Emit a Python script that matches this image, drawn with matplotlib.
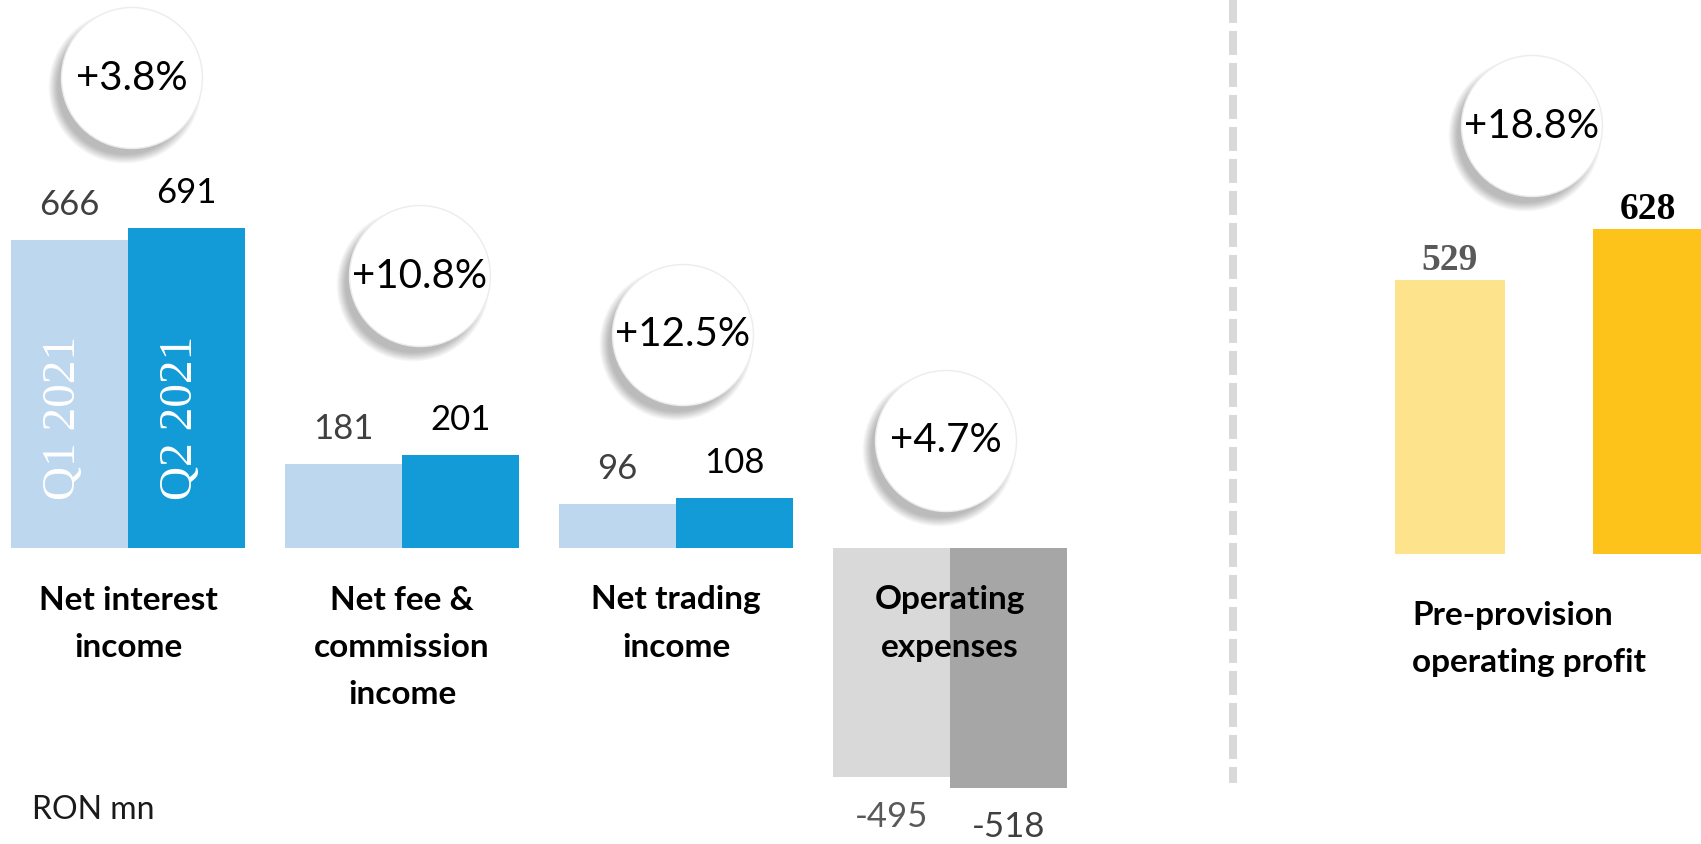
import matplotlib
matplotlib.use("Agg")
import matplotlib.pyplot as plt
import numpy as np
from matplotlib.patches import Circle

# data (RON mn)
periods = ["Q1 2021", "Q2 2021"]
categories = ["Net interest\nincome", "Net fee &\ncommission\nincome", "Net trading\nincome",
              "Operating\nexpenses"]
q1 = [666, 181, 96, -495]
q2 = [691, 201, 108, -518]
ppop_label = "Pre-provision\noperating profit"
ppop = [529, 628]
growth = ["+3.8%", "+10.8%", "+12.5%", "+4.7%"]
ppop_growth = "+18.8%"

W, H = 1701, 844
fig = plt.figure(figsize=(W / 100, H / 100), dpi=100)
plt.rcParams["font.family"] = ["Lato", "DejaVu Sans"]

blue_light, blue = "#bdd7ee", "#139bd7"
grey_light, grey = "#d9d9d9", "#a6a6a6"
yel_light, yel = "#fde38c", "#fdc31a"

# main axes covers the whole figure; scale chosen so that 1 group = 274 px,
# baseline at 548 px from the top and 0.463 px per RON mn
base, scale, step, first = 548, 0.463, 274, 128
ax = fig.add_axes([0, 0, 1, 1])
ax.set_xlim(-first / step, (W - first) / step)
ax.set_ylim((base - H) / scale, base / scale)
ax.axis("off")

x = np.arange(len(q1))
bw = 117 / step
c1 = [blue_light] * 3 + [grey_light]
c2 = [blue] * 3 + [grey]
b1 = ax.bar(x - bw / 2, q1, width=bw, color=c1, linewidth=0)
b2 = ax.bar(x + bw / 2, q2, width=bw, color=c2, linewidth=0)

for xs, vals, cols in [(x - bw / 2, q1, ["#404040"] * 3 + ["#595959"]),
                       (x + bw / 2, q2, ["#000000"] * 3 + ["#404040"])]:
    for xi, v, col in zip(xs, vals, cols):
        off = 25 if v > 0 else -28.5
        ax.annotate(str(v), xy=(xi, v), xytext=(0, off), textcoords="offset points",
                    ha="center", va="center", fontsize=25, color=col)

# period names written inside the first pair of bars
for xi, p in zip([-bw / 2, bw / 2], periods):
    ax.text(xi - 0.022, 281, p, rotation=90, ha="center", va="center",
            fontsize=34, color="white", family="Liberation Serif", zorder=5)

# category names below the bars (line by line, 47.5 px apart)
for xi, c in zip(x, categories):
    for k, line in enumerate(c.split("\n")):
        ax.text(xi, (base - 600 - 47.5 * k) / scale, line, ha="center", va="center",
                fontsize=24, fontweight="bold", zorder=6)

# pre-provision operating profit on its own scale
w = 110 / 198
axp = fig.add_axes([1395 / W, 0, 308 / W, 1])
axp.set_xlim(-w / 2, 1 + w / 2)
axp.set_ylim((554 - H) / 0.518, 554 / 0.518)
axp.axis("off")
axp.bar([0, 1], ppop, width=w, color=[yel_light, yel], linewidth=0)
for i, v in enumerate(ppop):
    axp.annotate(str(v), xy=(i, v), xytext=(0, 14), textcoords="offset points",
                 ha="center", va="center", fontsize=27, fontweight="bold",
                 family="Liberation Serif", color=["#595959", "#000000"][i])

# overlay in pixel coordinates for the decorations
ov = fig.add_axes([0, 0, 1, 1])
ov.set_xlim(0, W)
ov.set_ylim(H, 0)
ov.axis("off")
ov.patch.set_visible(False)

ov.plot([1233, 1233], [-2, 783], color="#d9d9d9", lw=5.76,
        linestyle=(0, (3, 1)), dash_capstyle="butt")

circles = [(132, 78), (420, 276), (683, 335), (946, 441), (1532, 126)]
rad = 70.5
for (cx, cy), g in zip(circles, growth + [ppop_growth]):
    for k in range(12):
        ov.add_patch(Circle((cx - 7, cy + 9), rad + 6 - k * 0.8, color="black",
                            alpha=0.025, lw=0))
    ov.add_patch(Circle((cx, cy), rad, facecolor="white", edgecolor="#ececec", lw=1))
    ov.text(cx, cy, g, ha="center", va="center", fontsize=29, color="black")

for k, line in enumerate(ppop_label.split("\n")):
    ov.text(1412, 615 + 47.5 * k, line, ha="left", va="center", fontsize=24,
            fontweight="bold")

ov.text(32, 810, "RON mn", ha="left", va="center", fontsize=23, color="#1a1a1a")

fig.savefig("out.png", dpi=100)
